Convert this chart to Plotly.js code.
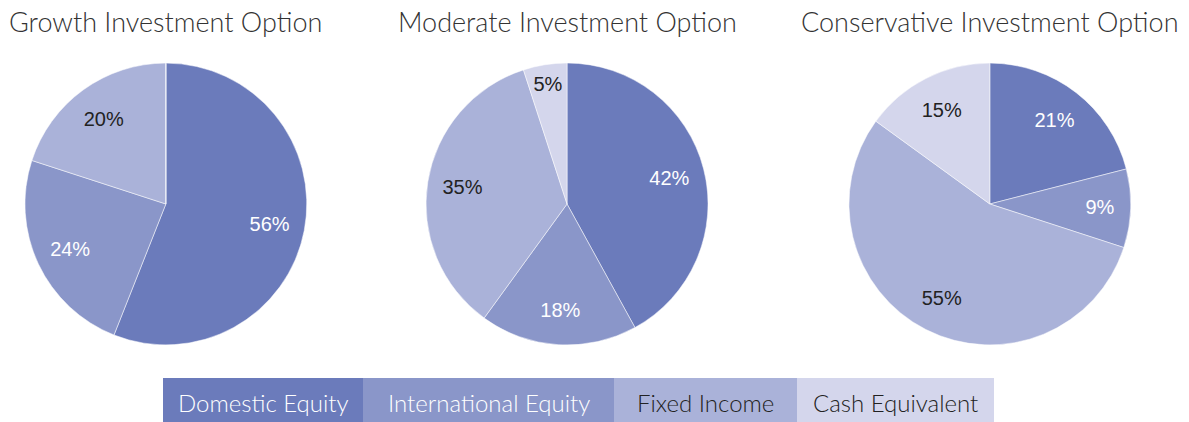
<!DOCTYPE html>
<html>
<head>
<meta charset="utf-8">
<script src="https://cdn.plot.ly/plotly-3.0.1.min.js"></script>
<style>html,body{margin:0;padding:0;background:#fff;}#chart{width:1189px;height:422px;}</style>
</head>
<body>
<div id="chart"></div>
<script>
const categories = ["Domestic Equity", "International Equity", "Fixed Income", "Cash Equivalent"];
const growthValues = [56, 24, 20, 0];
const moderateValues = [42, 18, 35, 5];
const conservativeValues = [21, 9, 55, 15];
const pieTitles = ["Growth Investment Option", "Moderate Investment Option", "Conservative Investment Option"];

const colors = ["#6b7bbb", "#8a96c9", "#aab2d9", "#d4d6ec"];
const textColors = ["#ffffff", "#ffffff", "#222222", "#222222"];

const domY = [0.1825, 0.8507];
const domainsX = [[0.021, 0.258], [0.3583, 0.5955], [0.714, 0.951]];
const seriesList = [growthValues, moderateValues, conservativeValues];

const traces = [];
seriesList.forEach((vals, i) => {
  // filled pie, no text
  traces.push({
    type: "pie",
    labels: categories,
    values: vals,
    sort: false,
    direction: "clockwise",
    rotation: 0,
    domain: {x: domainsX[i], y: domY},
    marker: {colors: colors, line: {color: "#ffffff", width: 0.5}},
    textinfo: "none",
    hoverinfo: "label+value",
    showlegend: false
  });
  // transparent ring overlay carrying the labels in the outer part of each slice
  traces.push({
    type: "pie",
    labels: categories,
    values: vals,
    sort: false,
    direction: "clockwise",
    rotation: 0,
    hole: 0.5,
    domain: {x: domainsX[i], y: domY},
    marker: {colors: ["rgba(0,0,0,0)", "rgba(0,0,0,0)", "rgba(0,0,0,0)", "rgba(0,0,0,0)"], line: {width: 0}},
    texttemplate: "%{value}%",
    textposition: "inside",
    insidetextorientation: "horizontal",
    insidetextfont: {family: "Liberation Sans, Arial, sans-serif", size: 20, color: textColors},
    hoverinfo: "skip",
    showlegend: false
  });
});

const annotations = pieTitles.map((t, i) => ({
  text: t,
  x: (domainsX[i][0] + domainsX[i][1]) / 2,
  xref: "paper",
  y: 1 - 22 / 422,
  yref: "paper",
  xanchor: "center",
  yanchor: "middle",
  showarrow: false,
  font: {family: "Lato, Open Sans, sans-serif", size: 27, weight: 300, color: "#333333"}
}));

// custom legend row
const legendEdges = [163, 363, 614, 797, 994];
const shapes = [];
categories.forEach((c, i) => {
  shapes.push({
    type: "rect", xref: "paper", yref: "paper",
    x0: legendEdges[i] / 1189, x1: legendEdges[i + 1] / 1189,
    y0: 0, y1: 44 / 422,
    fillcolor: colors[i], line: {width: 0}
  });
  annotations.push({
    text: c,
    x: (legendEdges[i] + legendEdges[i + 1]) / 2 / 1189,
    xref: "paper", y: 20 / 422, yref: "paper",
    xanchor: "center", yanchor: "middle", showarrow: false,
    font: {family: "Lato, Open Sans, sans-serif", size: 24, weight: 300, color: i < 2 ? "#ffffff" : "#222222"}
  });
});

const layout = {
  width: 1189, height: 422,
  margin: {l: 0, r: 0, t: 0, b: 0},
  paper_bgcolor: "#ffffff",
  plot_bgcolor: "#ffffff",
  showlegend: false,
  annotations: annotations,
  shapes: shapes
};

Plotly.newPlot("chart", traces, layout, {displayModeBar: false, staticPlot: true});
</script>
</body>
</html>
